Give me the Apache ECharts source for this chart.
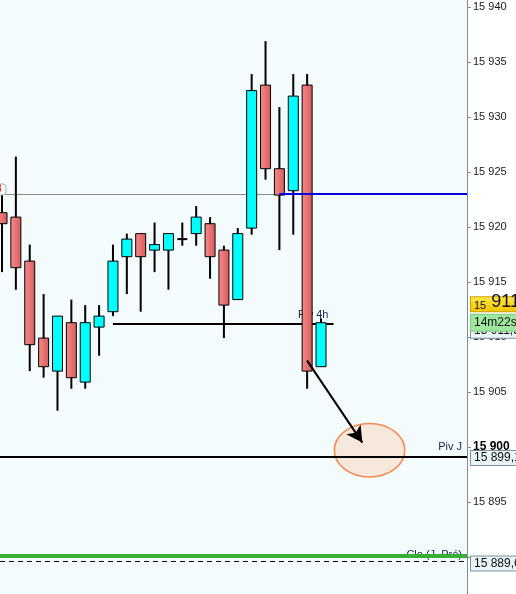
<!DOCTYPE html>
<html><head><meta charset="utf-8">
<script src="https://cdn.jsdelivr.net/npm/echarts@6/dist/echarts.min.js"></script>
<style>html,body{margin:0;padding:0;background:#fff;overflow:hidden}#c{width:516px;height:594px}</style>
</head><body><div id="c"></div>
<script>
// ---- data ----
const opens  = [15921.3,15920.9,15916.9,15909.9,15906.9,15911.3,15905.9,15910.9,15912.3,15917.3,15919.4,15917.9,15917.9,15918.9,15919.4,15920.3,15917.9,15913.4,15919.9,15932.9,15925.3,15923.3,15932.9,15907.3];
const closes = [15920.3,15916.3,15909.3,15907.3,15911.9,15906.3,15911.3,15911.9,15916.9,15918.9,15917.3,15918.4,15919.4,15918.9,15920.9,15917.3,15912.9,15919.4,15932.4,15925.3,15922.9,15931.9,15906.9,15911.3];
const lows   = [15915.9,15914.3,15906.9,15906.3,15903.3,15905.3,15905.3,15908.3,15911.9,15913.9,15912.3,15915.9,15914.3,15918.3,15918.3,15915.3,15909.9,15913.4,15919.3,15924.3,15917.9,15919.3,15905.3,15907.3];
const highs  = [15923.5,15926.4,15918.4,15913.9,15911.9,15913.4,15912.9,15912.9,15918.4,15919.4,15919.4,15920.4,15919.4,15920.4,15921.9,15920.9,15918.3,15919.9,15933.9,15936.9,15930.9,15933.9,15933.9,15911.7];

const resistanceLevel = 15923.0;
const resistanceBlueFrom = 20;
const pivot4hLevel = 15911.2;
const pivot4hRange = [8, 23.9];
const pivotDayLevel = 15899.1;
const closePrevDayLevel = 15890.1;
const dashedLevel = 15889.6;
const lastPrice = 15911.3;
const timerText = '14m22s';
const arrowFrom = [22.0, 15907.85];
const arrowTo = [25.98, 15900.4];
const ellipseCenter = [26.5, 15899.7];
const ellipseRadius = [2.54, 2.43];
const hiddenTicks = [15890];

const yMin = 15885, yMax = 15945, yStep = 5;
const xMin = -0.1442, xMax = 33.526;

function fmt(v, d) {
  const s = v.toFixed(d).split('.');
  const ip = s[0].replace(/\B(?=(\d{3})+(?!\d))/g, ' ');
  return s.length > 1 ? ip + ',' + s[1] : ip;
}

const FONT = 'Liberation Sans, Arial, sans-serif';
const CLEAR = 'rgba(0,0,0,0)';
const candleData = opens.map((o, i) => [i, o, closes[i], lows[i], highs[i]]);

const redFill = new echarts.graphic.LinearGradient(0, 0, 1, 0, [
  {offset: 0, color: '#f48c8c'}, {offset: 1, color: '#d85a5a'}
]);

function renderCandle(params, api) {
  const i = api.value(0), o = api.value(1), c = api.value(2), l = api.value(3), h = api.value(4);
  const pO = api.coord([i, o]), pC = api.coord([i, c]), pL = api.coord([i, l]), pH = api.coord([i, h]);
  const x = pO[0];
  const top = Math.min(pO[1], pC[1]), bot = Math.max(pO[1], pC[1]);
  const ch = [{type: 'line', shape: {x1: x, y1: pH[1], x2: x, y2: pL[1]}, style: {stroke: '#000', lineWidth: 2}}];
  if (o === c) {
    ch.push({type: 'line', shape: {x1: x - 5, y1: top, x2: x + 5, y2: top}, style: {stroke: '#000', lineWidth: 2}});
  } else {
    ch.push({type: 'rect', shape: {x: x - 5, y: top, width: 10, height: bot - top},
      style: {fill: c > o ? '#00ffff' : redFill, stroke: '#000', lineWidth: 1}});
  }
  return {type: 'group', children: ch};
}

function renderEllipse(params, api) {
  const c = api.coord([api.value(0), api.value(1)]);
  const e = api.coord([api.value(0) + api.value(2), api.value(1) + api.value(3)]);
  const rx = Math.abs(e[0] - c[0]), ry = Math.abs(e[1] - c[1]);
  const d = 'M' + (c[0] - rx) + ' ' + c[1] + ' A' + rx + ' ' + ry + ' 0 1 0 ' + (c[0] + rx) + ' ' + c[1] +
            ' A' + rx + ' ' + ry + ' 0 1 0 ' + (c[0] - rx) + ' ' + c[1] + ' Z';
  return {type: 'path', shape: {pathData: d}, style: {fill: '#f6e8dd', stroke: '#f38a4e', lineWidth: 1.5}};
}

const boxLabel = (text, extra) => Object.assign({
  show: true, position: 'end', distance: 4, formatter: text, fontFamily: FONT, fontSize: 12,
  color: '#111', backgroundColor: '#e9f4f7', borderColor: '#7f8f9c', borderWidth: 1,
  padding: [1, 3, 0, 3], lineHeight: 13
}, extra || {});

const hidden = {color: CLEAR, width: 1, type: 'solid'};

const chart = echarts.init(document.getElementById('c'), null, {renderer: 'canvas'});
chart.setOption({
  animation: false,
  backgroundColor: '#ffffff',
  grid: {left: 0, right: 49, top: -48, bottom: -18, show: true, backgroundColor: '#f3fbfd', borderWidth: 0,
         containLabel: false, outerBoundsMode: 'none'},
  xAxis: {type: 'value', min: xMin, max: xMax, show: false},
  yAxis: {
    type: 'value', position: 'right', min: yMin, max: yMax, interval: yStep,
    axisLine: {show: true, onZero: false, lineStyle: {color: '#7f8c97', width: 1}},
    axisTick: {show: true, length: 4, lineStyle: {color: '#7f8c97'}},
    splitLine: {show: false},
    axisLabel: {
      margin: 6, fontFamily: FONT, fontSize: 11, color: '#1a1a1a',
      formatter: v => hiddenTicks.indexOf(v) >= 0 ? '' : (v === 15900 ? '{b|' + fmt(v, 0) + '}' : fmt(v, 0)),
      rich: {b: {fontFamily: FONT, fontSize: 12, fontWeight: 'bold', color: '#000'}}
    }
  },
  series: [
    {
      type: 'custom', name: 'zone', z: 1, coordinateSystem: 'cartesian2d',
      data: [[ellipseCenter[0], ellipseCenter[1], ellipseRadius[0], ellipseRadius[1]]],
      renderItem: renderEllipse, silent: true
    },
    {
      type: 'line', name: 'texts', z: 2, data: [], silent: true,
      markLine: {
        z: 2, symbol: ['none', 'none'], silent: true,
        data: [
          {yAxis: closePrevDayLevel, lineStyle: hidden,
           label: {show: true, position: 'insideEndTop', formatter: 'Clo (J. Pré)', fontFamily: FONT, fontSize: 11,
                   color: '#1c2050', distance: 5, offset: [0, 10]}},
          [{coord: [pivot4hRange[0], pivot4hLevel], lineStyle: hidden},
           {coord: [pivot4hRange[1], pivot4hLevel],
            label: {show: true, position: 'insideEndTop', formatter: 'Piv 4h', fontFamily: FONT, fontSize: 11,
                    color: '#1c2050', distance: 5, offset: [0, 2]}}]
        ]
      }
    },
    {
      type: 'line', name: 'levels', z: 3, data: [], silent: true,
      markLine: {
        z: 3, symbol: ['none', 'none'], silent: true,
        label: {show: false},
        data: [
          {yAxis: resistanceLevel, lineStyle: {color: '#8a8a8a', width: 1, type: 'solid'}, label: {show: false}},
          [{coord: [pivot4hRange[0], pivot4hLevel], lineStyle: {color: '#000', width: 2, type: 'solid'}},
           {coord: [pivot4hRange[1], pivot4hLevel], label: {show: false}}],
          {yAxis: pivotDayLevel, lineStyle: {color: '#000', width: 2, type: 'solid'},
           label: boxLabel(fmt(pivotDayLevel, 1), {offset: [0, 1]})},
          {yAxis: pivotDayLevel, lineStyle: hidden,
           label: {show: true, position: 'insideEndTop', formatter: 'Piv J', fontFamily: FONT, fontSize: 11,
                   color: '#1c2050', distance: 5, offset: [0, 1]}},
          {yAxis: closePrevDayLevel, lineStyle: {color: '#36b036', width: 4, type: 'solid'}, label: {show: false}},
          {yAxis: dashedLevel, lineStyle: {color: '#000', width: 1, type: [5, 4]},
           label: boxLabel(fmt(dashedLevel, 1), {offset: [0, 2]})},
          {yAxis: lastPrice, lineStyle: hidden,
           label: boxLabel(fmt(lastPrice, 1), {offset: [0, 7.5], padding: [1, 3, 1, 3]})},
          {yAxis: lastPrice, lineStyle: hidden,
           label: boxLabel(timerText, {backgroundColor: '#9fe79f', borderColor: '#7fc87f', padding: [2, 3, 1, 3], offset: [0, 0]})},
          {yAxis: lastPrice, lineStyle: hidden,
           label: boxLabel('{s|' + fmt(Math.floor(lastPrice), 0).split(' ')[0] + '}{b| ' + fmt(Math.floor(lastPrice), 0).split(' ')[1] + '}',
             {backgroundColor: {type: 'linear', x: 0, y: 0, x2: 0, y2: 1, colorStops: [{offset: 0, color: '#ffe94a'}, {offset: 1, color: '#f2c200'}]},
              borderColor: '#c9a200', padding: [1, 3, 0, 3], offset: [0, -18.5],
              rich: {s: {fontFamily: FONT, fontSize: 11, color: '#111', verticalAlign: 'bottom'},
                     b: {fontFamily: FONT, fontSize: 18, color: '#111', verticalAlign: 'bottom'}}})}
        ]
      }
    },
    {
      type: 'custom', name: 'candles', z: 4, coordinateSystem: 'cartesian2d',
      data: candleData, renderItem: renderCandle, silent: true
    },
    {
      type: 'line', name: 'overlay', z: 6, data: [], silent: true,
      markLine: {
        z: 6, silent: true, symbol: ['none', 'none'],
        label: {show: false},
        data: [
          [{coord: [resistanceBlueFrom, resistanceLevel], lineStyle: {color: '#0000e0', width: 2, type: 'solid'}},
           {coord: [xMax, resistanceLevel]}],
          [{coord: arrowFrom, symbol: 'none', lineStyle: {color: '#000', width: 2, type: 'solid'}},
           {coord: arrowTo, symbol: 'arrow', symbolSize: [13, 16]}]
        ]
      }
    }
  ],
  graphic: [
    {type: 'rect', z: 100, shape: {x: -12, y: 184, width: 18, height: 11, r: 3},
     style: {fill: '#f7f7f7', stroke: '#a9b0b6', lineWidth: 1}},
    {type: 'text', z: 101, x: -4, y: 184, style: {text: '8', fill: '#e03030', font: 'bold 10px ' + FONT}}
  ]
});
</script></body></html>
